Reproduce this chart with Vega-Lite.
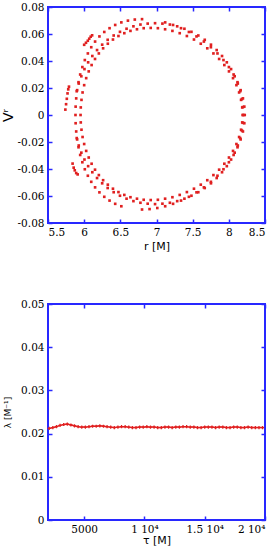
{
 "$schema": "https://vega.github.io/schema/vega-lite/v6.json",
 "padding": {"left": 0, "top": 1, "right": 0, "bottom": 0},
 "spacing": 45,
 "config": {
  "view": {"stroke": "#2828ff", "strokeWidth": 2},
  "axis": {"grid": false, "domain": false, "tickColor": "#2828ff", "tickWidth": 1.5, "tickSize": -4, "labelFont": "DejaVu Serif", "labelFontSize": 10.5, "labelColor": "#000", "titleFont": "DejaVu Sans", "titleFontWeight": "normal", "titleColor": "#000", "labelPadding": 8}
 },
 "datasets": {
  "orbit": [
   {"r":8.22,"v":0},{"r":8.214,"v":0.0062},{"r":8.195,"v":0.0123},{"r":8.163,"v":0.0184},{"r":8.12,"v":0.0243},{"r":8.066,"v":0.03},{"r":8.001,"v":0.0355},{"r":7.926,"v":0.0407},{"r":7.843,"v":0.0456},{"r":7.752,"v":0.0502},{"r":7.655,"v":0.0544},{"r":7.553,"v":0.0582},{"r":7.448,"v":0.0615},{"r":7.339,"v":0.0643},{"r":7.229,"v":0.0667},{"r":7.12,"v":0.0686},
   {"r":6.8,"v":0.071},{"r":6.7,"v":0.0707},{"r":6.605,"v":0.0699},{"r":6.514,"v":0.0686},{"r":6.429,"v":0.0667},{"r":6.351,"v":0.0643},{"r":6.278,"v":0.0615},{"r":6.211,"v":0.0582},{"r":6.151,"v":0.0544},{"r":6.098,"v":0.0502},{"r":6.051,"v":0.0456},{"r":6.009,"v":0.0407},{"r":5.975,"v":0.0355},{"r":5.945,"v":0.03},{"r":5.922,"v":0.0243},{"r":5.903,"v":0.0184},{"r":5.89,"v":0.0123},{"r":5.882,"v":0.0062},{"r":5.88,"v":0},{"r":5.882,"v":-0.0061},{"r":5.89,"v":-0.0122},{"r":5.903,"v":-0.0181},{"r":5.922,"v":-0.0239},{"r":5.945,"v":-0.0296},{"r":5.975,"v":-0.035},{"r":6.009,"v":-0.0402},{"r":6.051,"v":-0.045},{"r":6.098,"v":-0.0495},{"r":6.151,"v":-0.0536},{"r":6.211,"v":-0.0573},{"r":6.278,"v":-0.0606},{"r":6.351,"v":-0.0634},{"r":6.429,"v":-0.0658},{"r":6.514,"v":-0.0676},
   {"r":6.8,"v":-0.07},{"r":6.904,"v":-0.0697},{"r":7.011,"v":-0.0689},{"r":7.12,"v":-0.0676},{"r":7.229,"v":-0.0658},{"r":7.339,"v":-0.0634},{"r":7.448,"v":-0.0606},{"r":7.553,"v":-0.0573},{"r":7.655,"v":-0.0536},{"r":7.752,"v":-0.0495},{"r":7.843,"v":-0.045},{"r":7.926,"v":-0.0402},{"r":8.001,"v":-0.035},{"r":8.066,"v":-0.0296},{"r":8.12,"v":-0.0239},{"r":8.163,"v":-0.0181},{"r":8.195,"v":-0.0122},{"r":8.214,"v":-0.0061},
   {"r":8.19,"v":0},{"r":8.185,"v":0.0056},{"r":8.169,"v":0.0112},{"r":8.142,"v":0.0167},{"r":8.105,"v":0.0221},{"r":8.058,"v":0.0273},{"r":8.002,"v":0.0323},{"r":7.938,"v":0.037},{"r":7.866,"v":0.0415},{"r":7.787,"v":0.0456},{"r":7.702,"v":0.0494},{"r":7.612,"v":0.0528},{"r":7.518,"v":0.0559},{"r":7.42,"v":0.0585},{"r":7.321,"v":0.0606},{"r":7.22,"v":0.0623},{"r":7.119,"v":0.0635},{"r":7.019,"v":0.0643},{"r":6.92,"v":0.0645},{"r":6.823,"v":0.0643},{"r":6.73,"v":0.0635},{"r":6.64,"v":0.0623},{"r":6.555,"v":0.0606},{"r":6.474,"v":0.0585},{"r":6.398,"v":0.0559},{"r":6.327,"v":0.0528},{"r":6.262,"v":0.0494},{"r":6.203,"v":0.0456},{"r":6.15,"v":0.0415},{"r":6.103,"v":0.037},{"r":6.063,"v":0.0323},{"r":6.028,"v":0.0273},{"r":6.0,"v":0.0221},{"r":5.978,"v":0.0167},{"r":5.963,"v":0.0112},{"r":5.953,"v":0.0056},{"r":5.95,"v":0},{"r":5.953,"v":-0.0055},{"r":5.963,"v":-0.0109},{"r":5.978,"v":-0.0163},{"r":6.0,"v":-0.0215},{"r":6.028,"v":-0.0266},{"r":6.063,"v":-0.0315},{"r":6.103,"v":-0.0361},{"r":6.15,"v":-0.0405},{"r":6.203,"v":-0.0445},{"r":6.262,"v":-0.0483},{"r":6.327,"v":-0.0516},{"r":6.398,"v":-0.0546},{"r":6.474,"v":-0.0571},{"r":6.555,"v":-0.0592},{"r":6.64,"v":-0.0609},{"r":6.73,"v":-0.062},{"r":6.823,"v":-0.0628},{"r":6.92,"v":-0.063},{"r":7.019,"v":-0.0628},{"r":7.119,"v":-0.062},{"r":7.22,"v":-0.0609},{"r":7.321,"v":-0.0592},{"r":7.42,"v":-0.0571},{"r":7.518,"v":-0.0546},{"r":7.612,"v":-0.0516},{"r":7.702,"v":-0.0483},{"r":7.787,"v":-0.0445},{"r":7.866,"v":-0.0405},{"r":7.938,"v":-0.0361},{"r":8.002,"v":-0.0315},{"r":8.058,"v":-0.0266},{"r":8.105,"v":-0.0215},{"r":8.142,"v":-0.0163},{"r":8.169,"v":-0.0109},{"r":8.185,"v":-0.0055},
   {"r":8.2,"v":0},{"r":8.195,"v":0.0059},{"r":8.181,"v":0.0118},{"r":8.157,"v":0.0176},{"r":8.124,"v":0.0233},{"r":8.081,"v":0.0287},{"r":8.031,"v":0.034},{"r":7.972,"v":0.039},{"r":7.906,"v":0.0437},{"r":7.832,"v":0.0481},{"r":7.753,"v":0.0521},{"r":7.667,"v":0.0557},{"r":7.578,"v":0.0589},{"r":7.483,"v":0.0616},{"r":7.386,"v":0.0639},{"r":7.286,"v":0.0657},{"r":7.185,"v":0.067},{"r":7.082,"v":0.0677},{"r":6.98,"v":0.068},
   {"r":6.878,"v":0.0677},{"r":6.778,"v":0.067},{"r":6.681,"v":0.0657},{"r":6.586,"v":0.0639},{"r":6.495,"v":0.0616},{"r":6.408,"v":0.0589},{"r":6.325,"v":0.0557},{"r":6.249,"v":0.0521},{"r":6.178,"v":0.0481},{"r":6.113,"v":0.0437},{"r":6.055,"v":0.039},{"r":6.004,"v":0.034},{"r":5.961,"v":0.0287},{"r":5.925,"v":0.0233},{"r":5.897,"v":0.0176},
   {"r":5.897,"v":-0.0171},{"r":5.925,"v":-0.0226},{"r":5.961,"v":-0.0279},{"r":6.004,"v":-0.033},{"r":6.055,"v":-0.0379},{"r":6.113,"v":-0.0424},{"r":6.178,"v":-0.0467},{"r":6.249,"v":-0.0506},{"r":6.325,"v":-0.0541},{"r":6.408,"v":-0.0572},{"r":6.495,"v":-0.0598},{"r":6.586,"v":-0.062},{"r":6.681,"v":-0.0638},{"r":6.778,"v":-0.065},{"r":6.878,"v":-0.0657},{"r":6.98,"v":-0.066},
   {"r":7.082,"v":-0.0657},{"r":7.185,"v":-0.065},{"r":7.286,"v":-0.0638},{"r":7.386,"v":-0.062},{"r":7.483,"v":-0.0598},{"r":7.578,"v":-0.0572},{"r":7.667,"v":-0.0541},{"r":7.753,"v":-0.0506},{"r":7.832,"v":-0.0467},{"r":7.906,"v":-0.0424},{"r":7.972,"v":-0.0379},{"r":8.031,"v":-0.033},{"r":8.081,"v":-0.0279},{"r":8.124,"v":-0.0226},{"r":8.157,"v":-0.0171},{"r":8.181,"v":-0.0115},{"r":8.195,"v":-0.0058},
   {"r":6.0,"v":0.052},{"r":6.025,"v":0.0535},{"r":6.05,"v":0.055},{"r":6.07,"v":0.0565},{"r":6.09,"v":0.058},{"r":6.11,"v":0.059},
   {"r":5.74,"v":0.004},{"r":5.75,"v":0.008},{"r":5.76,"v":0.012},{"r":5.77,"v":0.016},{"r":5.78,"v":0.019},{"r":5.79,"v":0.021},
   {"r":5.84,"v":-0.036},{"r":5.855,"v":-0.039},{"r":5.87,"v":-0.041},{"r":5.89,"v":-0.043},{"r":5.91,"v":-0.044}
  ],
  "lam": [
   {"t":2100,"l":0.0212},{"t":2400,"l":0.0214},{"t":2700,"l":0.0216},{"t":3000,"l":0.0219},{"t":3300,"l":0.0221},{"t":3600,"l":0.0222},{"t":3900,"l":0.022},{"t":4200,"l":0.0218},{"t":4500,"l":0.0216},{"t":4800,"l":0.0215},{"t":5100,"l":0.0215},{"t":5400,"l":0.0216},{"t":5700,"l":0.0217},{"t":6000,"l":0.0217},{"t":6300,"l":0.0218},{"t":6600,"l":0.0217},{"t":6900,"l":0.0216},{"t":7200,"l":0.0215},{"t":7500,"l":0.0214},{"t":7800,"l":0.0215},{"t":8100,"l":0.0216},{"t":8400,"l":0.0216},{"t":8700,"l":0.0215},{"t":9000,"l":0.0214},{"t":9300,"l":0.0214},{"t":9600,"l":0.0215},{"t":9900,"l":0.0215},{"t":10200,"l":0.0216},{"t":10500,"l":0.0215},{"t":10800,"l":0.0215},{"t":11100,"l":0.0214},{"t":11400,"l":0.0214},{"t":11700,"l":0.0215},{"t":12000,"l":0.0215},{"t":12300,"l":0.0214},{"t":12600,"l":0.0215},{"t":12900,"l":0.0215},{"t":13200,"l":0.0216},{"t":13500,"l":0.0216},{"t":13800,"l":0.0215},{"t":14100,"l":0.0215},{"t":14400,"l":0.0214},{"t":14700,"l":0.0214},{"t":15000,"l":0.0215},{"t":15300,"l":0.0215},{"t":15600,"l":0.0215},{"t":15900,"l":0.0214},{"t":16200,"l":0.0215},{"t":16500,"l":0.0215},{"t":16800,"l":0.0214},{"t":17100,"l":0.0214},{"t":17400,"l":0.0215},{"t":17700,"l":0.0215},{"t":18000,"l":0.0214},{"t":18300,"l":0.0214},{"t":18600,"l":0.0215},{"t":18900,"l":0.0214},{"t":19200,"l":0.0214},{"t":19500,"l":0.0214},{"t":19800,"l":0.0214}
  ]
 },
 "vconcat": [
  {
   "width": 217, "height": 216,
   "data": {"name": "orbit"},
   "layer": [
    {
     "mark": {"type": "square", "size": 7, "color": "#e02020", "opacity": 1},
     "encoding": {
      "x": {"field": "r", "type": "quantitative", "scale": {"domain": [5.5, 8.5], "nice": false, "zero": false}, "axis": {"title": "r [M]", "values": [5.5, 6, 6.5, 7, 7.5, 8, 8.5], "format": "~g", "titleFontSize": 11, "titlePadding": 3}},
      "y": {"field": "v", "type": "quantitative", "scale": {"domain": [-0.08, 0.08], "nice": false, "zero": false}, "axis": {"title": "Vʳ", "values": [-0.08, -0.06, -0.04, -0.02, 0, 0.02, 0.04, 0.06, 0.08], "labelExpr": "datum.value == 0 ? '0' : (datum.value < 0 ? '-' : '') + format(abs(datum.value), '.2f')", "titleFontSize": 14, "titlePadding": 2}}
     }
    },
    {
     "mark": {"type": "square", "opacity": 0},
     "encoding": {
      "x": {"field": "r", "type": "quantitative", "axis": {"orient": "top", "labels": false, "title": null, "values": [5.5, 6, 6.5, 7, 7.5, 8, 8.5]}},
      "y": {"field": "v", "type": "quantitative", "axis": {"orient": "right", "labels": false, "title": null, "values": [-0.08, -0.06, -0.04, -0.02, 0, 0.02, 0.04, 0.06, 0.08]}}
     }
    }
   ],
   "resolve": {"axis": {"x": "independent", "y": "independent"}}
  },
  {
   "width": 217, "height": 216,
   "data": {"name": "lam"},
   "layer": [
    {
     "mark": {"type": "line", "color": "#e02020", "strokeWidth": 1.5},
     "encoding": {
      "x": {"field": "t", "type": "quantitative", "scale": {"domain": [2000, 20000], "nice": false, "zero": false}, "axis": {"title": "τ [M]", "values": [5000, 10000, 15000, 20000], "labelExpr": "datum.value == 5000 ? '5000' : datum.value == 10000 ? '1 10⁴' : datum.value == 15000 ? '1.5 10⁴' : '2 10⁴'", "titleFontSize": 11, "titlePadding": 0}},
      "y": {"field": "l", "type": "quantitative", "scale": {"domain": [0, 0.05], "nice": false, "zero": false}, "axis": {"title": "λ [M⁻¹]", "values": [0, 0.01, 0.02, 0.03, 0.04, 0.05], "format": "~g", "titleFontSize": 9, "titlePadding": 8}}
     }
    },
    {
     "mark": {"type": "point", "shape": "cross", "size": 10, "filled": true, "color": "#e02020", "opacity": 1},
     "encoding": {
      "x": {"field": "t", "type": "quantitative", "axis": null},
      "y": {"field": "l", "type": "quantitative", "axis": null}
     }
    },
    {
     "mark": {"type": "point", "opacity": 0},
     "encoding": {
      "x": {"field": "t", "type": "quantitative", "axis": {"orient": "top", "labels": false, "title": null, "values": [5000, 10000, 15000, 20000]}},
      "y": {"field": "l", "type": "quantitative", "axis": {"orient": "right", "labels": false, "title": null, "values": [0, 0.01, 0.02, 0.03, 0.04, 0.05]}}
     }
    }
   ],
   "resolve": {"axis": {"x": "independent", "y": "independent"}}
  }
 ]
}
